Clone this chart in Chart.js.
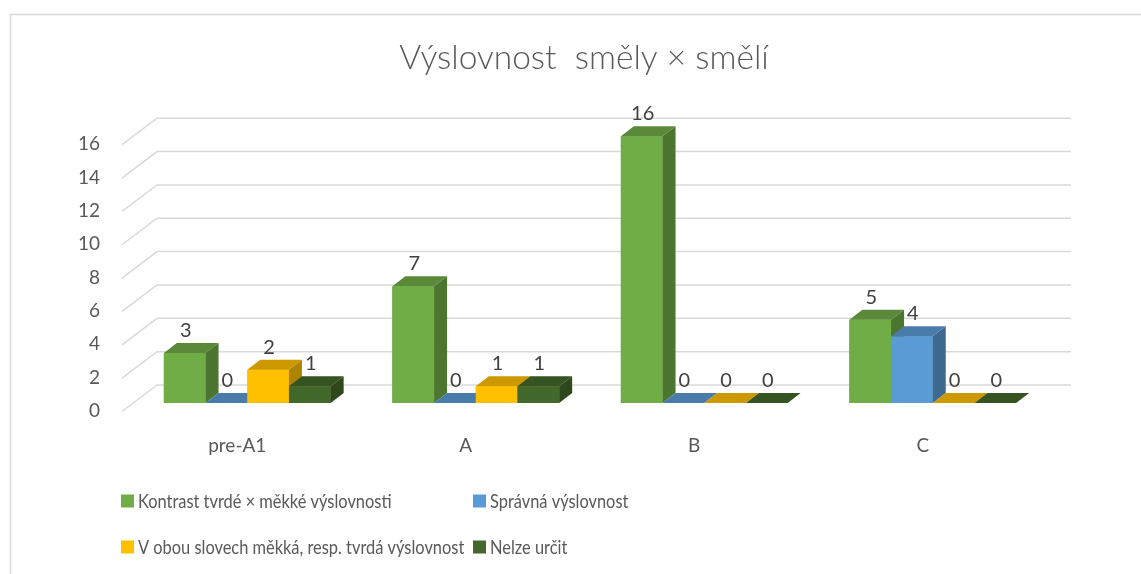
<!DOCTYPE html>
<html>
<head>
<meta charset="utf-8">
<script src="https://cdn.jsdelivr.net/npm/chart.js@4.4.0/dist/chart.umd.min.js"></script>
<style>
  html, body { margin: 0; padding: 0; background: #fff; }
  #wrap { width: 1141px; height: 574px; position: relative; }
</style>
</head>
<body>
<div id="wrap"><canvas id="chart"></canvas></div>
<script>
// data
const categories = ['pre-A1', 'A', 'B', 'C'];
const seriesNames = [
    'Kontrast tvrdé × měkké výslovnosti',
    'Správná výslovnost',
    'V obou slovech měkká, resp. tvrdá výslovnost',
    'Nelze určit'
];
const contrastValues = [3, 7, 16, 5];
const correctValues = [0, 0, 0, 4];
const bothValues = [2, 1, 0, 0];
const unknownValues = [1, 1, 0, 0];
const seriesColors = ['#70AD47', '#5B9BD5', '#FFC000', '#43682B'];

const FONT = 'Lato, "Open Sans", sans-serif';
const TEXT = '#595959';
// depth of the 3d boxes
const DX = 13, DY = 10;

function shade(hex, f) {
    const n = parseInt(hex.slice(1), 16);
    const r = Math.round(((n >> 16) & 255) * f);
    const g = Math.round(((n >> 8) & 255) * f);
    const b = Math.round((n & 255) * f);
    return `rgb(${r},${g},${b})`;
}

function poly(ctx, pts) {
    ctx.beginPath();
    ctx.moveTo(pts[0][0], pts[0][1]);
    for (let i = 1; i < pts.length; i++) ctx.lineTo(pts[i][0], pts[i][1]);
    ctx.closePath();
    ctx.fill();
}

// frame + perspective gridlines
const wallPlugin = {
    id: 'wall',
    beforeDraw(chart) {
        const ctx = chart.ctx;
        ctx.save();
        ctx.strokeStyle = '#d9d9d9';
        ctx.lineWidth = 1.5;
        ctx.strokeRect(10.5, 14.5, 1200, 700);
        ctx.restore();
    },
    beforeDatasetsDraw(chart) {
        const ctx = chart.ctx;
        const y = chart.scales.y;
        const {left, right} = chart.chartArea;
        ctx.save();
        ctx.strokeStyle = '#d9d9d9';
        ctx.lineWidth = 1.5;
        y.ticks.forEach(t => {
            const p = y.getPixelForValue(t.value);
            ctx.beginPath();
            ctx.moveTo(left - 11, p + 8.5);
            ctx.lineTo(left + 24, p - 18);
            ctx.lineTo(right + 24, p - 18);
            ctx.stroke();
        });
        ctx.restore();
    }
};

// side/top faces, value labels
const boxPlugin = {
    id: 'boxes',
    afterDatasetsDraw(chart) {
        const ctx = chart.ctx;
        const bars = [];
        chart.data.datasets.forEach((ds, i) => {
            chart.getDatasetMeta(i).data.forEach((el, j) => {
                bars.push({el, color: ds.backgroundColor, value: ds.data[j]});
            });
        });
        bars.sort((a, b) => a.el.x - b.el.x);
        ctx.save();
        bars.forEach(b => {
            const {x, y, base, width} = b.el.getProps(['x', 'y', 'base', 'width'], true);
            const l = x - width / 2, r = x + width / 2;
            ctx.fillStyle = b.color;
            ctx.fillRect(l, y, width, base - y);
            ctx.fillStyle = shade(b.color, 0.8);
            poly(ctx, [[l, y], [l + DX, y - DY], [r + DX, y - DY], [r, y]]);
            ctx.fillStyle = shade(b.color, 0.68);
            poly(ctx, [[r, y], [r + DX, y - DY], [r + DX, base - DY], [r, base]]);
        });
        ctx.fillStyle = '#404040';
        ctx.font = '20px ' + FONT;
        ctx.textAlign = 'center';
        ctx.textBaseline = 'alphabetic';
        bars.forEach(b => {
            const {x, y} = b.el.getProps(['x', 'y'], true);
            ctx.fillText(String(b.value), x + 1, y - 16);
        });
        ctx.restore();
    }
};

// two-column legend (text slightly condensed, like Calibri)
const legendPlugin = {
    id: 'legend2',
    afterDraw(chart) {
        const ctx = chart.ctx;
        const cols = [121, 473];
        const rows = [501, 547];
        ctx.save();
        ctx.font = '20px ' + FONT;
        ctx.textBaseline = 'middle';
        ctx.textAlign = 'left';
        chart.data.datasets.forEach((ds, i) => {
            const x = cols[i % 2], y = rows[Math.floor(i / 2)];
            ctx.fillStyle = ds.backgroundColor;
            ctx.fillRect(x, y - 6.5, 13, 13);
            ctx.fillStyle = TEXT;
            const w = ctx.measureText(ds.label).width * 0.82;
            ctx.fillText(ds.label, x + 17, y + 1, w);
        });
        ctx.restore();
    }
};

const seriesValues = [contrastValues, correctValues, bothValues, unknownValues];

new Chart(document.getElementById('chart'), {
    type: 'bar',
    data: {
        labels: categories,
        datasets: seriesNames.map((name, i) => ({
            label: name,
            data: seriesValues[i],
            backgroundColor: seriesColors[i],
            borderWidth: 0,
            categoryPercentage: 0.73,
            barPercentage: 1.0
        }))
    },
    options: {
        responsive: true,
        maintainAspectRatio: false,
        animation: false,
        layout: {
            padding: {left: 27, right: 0, top: 0, bottom: 0}
        },
        plugins: {
            legend: {display: false},
            tooltip: {enabled: false},
            title: {
                display: true,
                text: 'Výslovnost  směly × smělí',
                color: TEXT,
                font: {family: FONT, size: 33.5, weight: 300, lineHeight: 1.2},
                padding: {top: 38, bottom: 58}
            }
        },
        scales: {
            x: {
                grid: {display: false, drawTicks: false},
                border: {display: false},
                ticks: {
                    color: TEXT,
                    font: {family: FONT, size: 19},
                    padding: 31,
                    labelOffset: -10,
                    maxRotation: 0
                },
                afterFit(scale) { scale.height = 171; }
            },
            y: {
                min: 0,
                max: 16,
                grid: {display: false, drawTicks: false},
                border: {display: false},
                ticks: {
                    stepSize: 2,
                    color: TEXT,
                    font: {family: FONT, size: 19},
                    padding: 33,
                    labelOffset: 8
                },
                afterFit(scale) { scale.width = 106; }
            },
            y2: {
                position: 'right',
                grid: {display: false, drawTicks: false},
                border: {display: false},
                ticks: {display: false},
                afterFit(scale) { scale.width = 94; }
            }
        }
    },
    plugins: [wallPlugin, boxPlugin, legendPlugin]
});
</script>
</body>
</html>
